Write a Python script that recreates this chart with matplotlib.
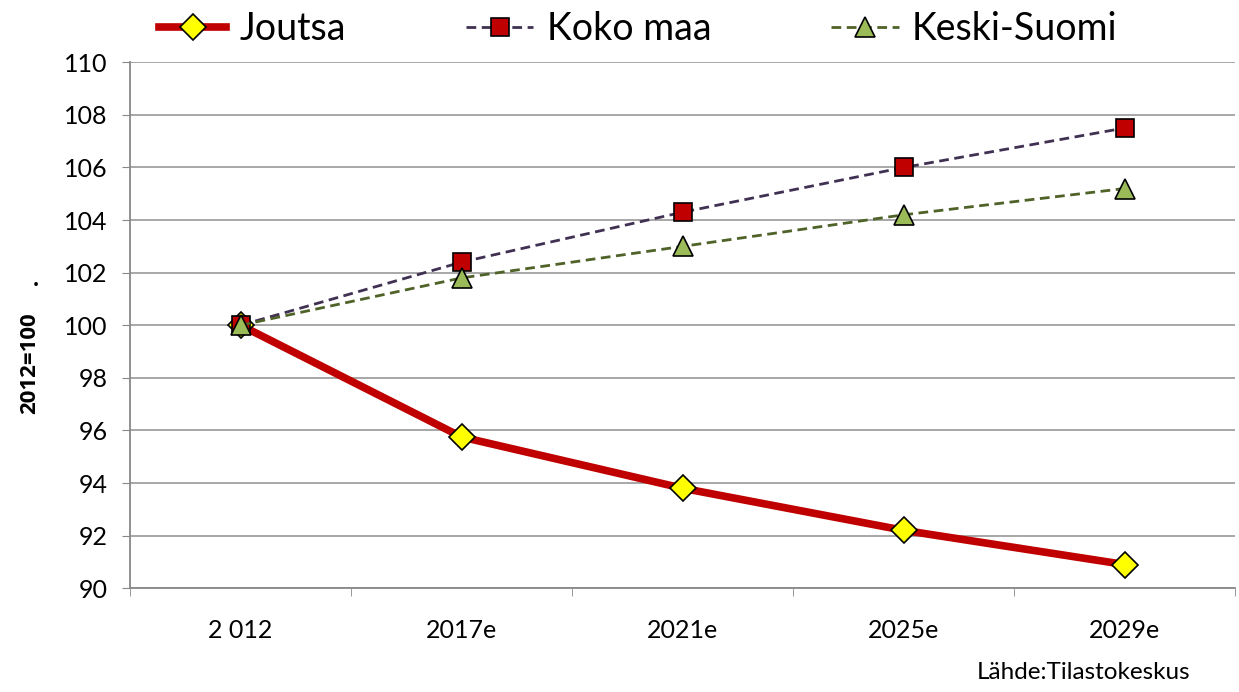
import matplotlib.pyplot as plt

# Data
years = ['2 012', '2017e', '2021e', '2025e', '2029e']
joutsa = [100, 95.75, 93.8, 92.2, 90.9]
koko_maa = [100, 102.4, 104.3, 106.0, 107.5]
keski_suomi = [100, 101.8, 103.0, 104.2, 105.2]

plt.rcParams['font.family'] = ['Lato', 'DejaVu Sans']

fig = plt.figure(figsize=(12.39, 6.92), dpi=100)
ax = fig.add_axes([0.105, 0.150, 0.892, 0.760])

x = range(len(years))
ax.plot(x, joutsa, color='#C00000', lw=5.5, marker='D', ms=13,
        mfc='#FFFF00', mec='black', mew=1.2, label='Joutsa', zorder=3)
ax.plot(x, koko_maa, color='#403152', lw=2, ls=(0, (3.5, 2)), marker='s', ms=13,
        mfc='#C00000', mec='black', mew=1.2, label='Koko maa', zorder=4)
ax.plot(x, keski_suomi, color='#4F6228', lw=2, ls=(0, (3.5, 2)), marker='^', ms=14,
        mfc='#9BBB59', mec='black', mew=1.2, label='Keski-Suomi', zorder=5)

ax.set_xlim(-0.5, 4.5)
ax.set_ylim(90, 110)
ax.set_yticks(range(90, 111, 2))
ax.set_xticks(list(x))
ax.set_xticklabels(years)
ax.set_xticks([i - 0.5 for i in range(6)], minor=True)
ax.tick_params(axis='x', which='major', length=0, pad=22, labelsize=18)
ax.tick_params(axis='x', which='minor', length=6, color='#888888')
ax.tick_params(axis='y', length=6, color='#888888', labelsize=18, pad=10)

ax.grid(axis='y', color='#A0A0A0', lw=1.3)
ax.set_axisbelow(True)
for s in ['top', 'right']:
    ax.spines[s].set_visible(False)
for s in ['left', 'bottom']:
    ax.spines[s].set_color('#888888')
    ax.spines[s].set_linewidth(1.3)

fig.text(0.024, 0.475, '2012=100', rotation=90, fontsize=16, fontweight='bold',
         family='Open Sans', ha='center', va='center')
fig.text(0.029, 0.595, '.', fontsize=15, fontweight='bold', family='Open Sans',
         ha='center', va='center')
fig.text(0.961, 0.028, 'Lähde:Tilastokeskus', fontsize=17.5, ha='right', va='center')

fig.legend(loc='center', bbox_to_anchor=(0.515, 0.958), ncol=3, frameon=False,
           fontsize=27, handlelength=1.8, columnspacing=3.2, handletextpad=0.35)

fig.savefig('out.png', dpi=100)
